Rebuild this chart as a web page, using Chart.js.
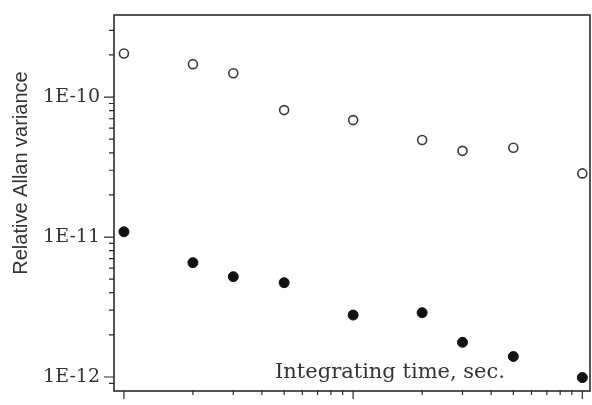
<!DOCTYPE html>
<html>
<head>
<meta charset="utf-8">
<script src="https://cdn.jsdelivr.net/npm/chart.js@4/dist/chart.umd.min.js"></script>
<style>
  html, body { margin: 0; padding: 0; background: #ffffff; }
  #wrap { width: 592px; height: 405px; position: relative; }
</style>
</head>
<body>
<div id="wrap"><canvas id="c"></canvas></div>
<script>
// ---- data ----
const integratingTimes = [1, 2, 3, 5, 10, 20, 30, 50, 100];
const openSeries = [2.05e-10, 1.72e-10, 1.48e-10, 8.07e-11, 6.85e-11, 4.93e-11, 4.13e-11, 4.35e-11, 2.85e-11];
const filledSeries = [1.09e-11, 6.56e-12, 5.21e-12, 4.72e-12, 2.77e-12, 2.88e-12, 1.77e-12, 1.40e-12, 9.9e-13];

const xMajorTicks = [1, 10, 100];
const xMinorTicks = [2, 3, 4, 5, 6, 7, 8, 9, 20, 30, 40, 50, 60, 70, 80, 90];
const yMajorTicks = [1e-12, 1e-11, 1e-10];
const yMajorLabels = ['1E-12', '1E-11', '1E-10'];
const yMinorTicks = [9e-13,
  2e-12, 3e-12, 4e-12, 5e-12, 6e-12, 7e-12, 8e-12, 9e-12,
  2e-11, 3e-11, 4e-11, 5e-11, 6e-11, 7e-11, 8e-11, 9e-11,
  2e-10, 3e-10];

const xLimits = [0.905, 108];
const yLimits = [7.94e-13, 3.86e-10];

const xTitle = 'Integrating time, sec.';
const yTitle = 'Relative Allan variance';

// ---- build ----
const openPoints = integratingTimes.map((t, i) => ({ x: t, y: openSeries[i] }));
const filledPoints = integratingTimes.map((t, i) => ({ x: t, y: filledSeries[i] }));

const frameAndTicks = {
  id: 'frameAndTicks',
  afterDraw(chart) {
    const ctx = chart.ctx;
    const a = chart.chartArea;
    const xs = chart.scales.x, ys = chart.scales.y;
    ctx.save();
    ctx.strokeStyle = '#2a2a2a';
    ctx.lineWidth = 1.6;
    ctx.strokeRect(a.left, a.top, a.right - a.left, a.bottom - a.top);
    ctx.lineWidth = 1.2;
    ctx.beginPath();
    xMajorTicks.forEach(v => { const p = xs.getPixelForValue(v); ctx.moveTo(p, a.bottom); ctx.lineTo(p, a.bottom + 8); });
    xMinorTicks.forEach(v => { const p = xs.getPixelForValue(v); ctx.moveTo(p, a.bottom - 1); ctx.lineTo(p, a.bottom + 4); });
    yMajorTicks.forEach(v => { const p = ys.getPixelForValue(v); ctx.moveTo(a.left, p); ctx.lineTo(a.left - 10, p); });
    yMinorTicks.forEach(v => { const p = ys.getPixelForValue(v); ctx.moveTo(a.left, p); ctx.lineTo(a.left - 5, p); });
    ctx.stroke();

    ctx.fillStyle = '#333333';
    ctx.font = '21px "DejaVu Serif"';
    ctx.textAlign = 'left';
    ctx.textBaseline = 'alphabetic';
    ctx.fillText(xTitle, 275, 378);

    ctx.translate(27, 173);
    ctx.rotate(-Math.PI / 2);
    ctx.font = '20px "Liberation Sans"';
    ctx.textAlign = 'center';
    ctx.textBaseline = 'alphabetic';
    ctx.fillText(yTitle, 0, 0);
    ctx.restore();
  }
};

new Chart(document.getElementById('c'), {
  type: 'scatter',
  data: {
    datasets: [
      {
        label: 'open',
        data: openPoints,
        pointStyle: 'circle',
        pointRadius: 4.5,
        pointBorderWidth: 1.6,
        pointBorderColor: '#3a3a3a',
        pointBackgroundColor: '#ffffff',
        showLine: false
      },
      {
        label: 'filled',
        data: filledPoints,
        pointStyle: 'circle',
        pointRadius: 5,
        pointBorderWidth: 1,
        pointBorderColor: '#111111',
        pointBackgroundColor: '#111111',
        showLine: false
      }
    ]
  },
  options: {
    responsive: true,
    maintainAspectRatio: false,
    animation: false,
    layout: { autoPadding: false, padding: { top: 15, right: 2, bottom: 0, left: 0 } },
    plugins: { legend: { display: false }, tooltip: { enabled: false } },
    scales: {
      x: {
        type: 'logarithmic',
        min: xLimits[0],
        max: xLimits[1],
        afterBuildTicks(scale) { scale.ticks = xMajorTicks.map(v => ({ value: v })); },
        afterFit(scale) { scale.height = 14; scale.paddingLeft = 0; scale.paddingRight = 0; },
        grid: { display: false, drawTicks: false },
        border: { display: false },
        ticks: { display: false }
      },
      y: {
        type: 'logarithmic',
        min: yLimits[0],
        max: yLimits[1],
        afterBuildTicks(scale) { scale.ticks = yMajorTicks.map(v => ({ value: v })); },
        afterFit(scale) { scale.width = 114; scale.paddingTop = 0; scale.paddingBottom = 0; },
        grid: { display: false, drawTicks: false },
        border: { display: false },
        ticks: {
          padding: 14,
          color: '#333333',
          font: { family: 'DejaVu Serif', size: 19 },
          callback(value) {
            const i = yMajorTicks.findIndex(v => Math.abs(v - value) / v < 1e-6);
            return i >= 0 ? yMajorLabels[i] : '';
          }
        }
      }
    }
  },
  plugins: [frameAndTicks]
});
</script>
</body>
</html>
